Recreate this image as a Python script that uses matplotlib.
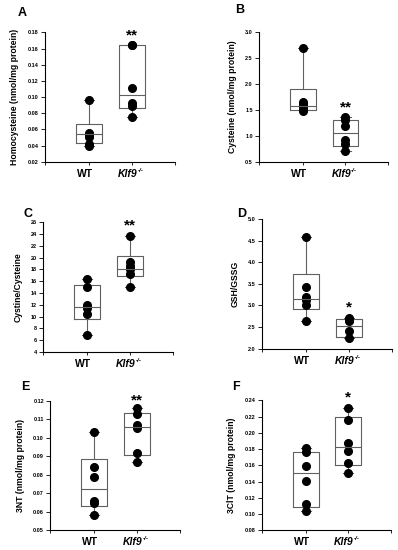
import matplotlib
matplotlib.use("Agg")
import matplotlib.pyplot as plt
import numpy as np

plt.rcParams['font.family'] = ['Liberation Sans', 'DejaVu Sans']
plt.rcParams['font.weight'] = 'bold'

groups = ['WT', 'Klf9']

# individual points
hcy_wt = [0.096, 0.056, 0.053, 0.051, 0.042, 0.040]
hcy_ko = [0.165, 0.164, 0.111, 0.093, 0.089, 0.075]
cys_wt = [2.70, 1.65, 1.62, 1.58, 1.52, 1.49]
cys_ko = [1.36, 1.30, 1.20, 0.92, 0.85, 0.70]
ratio_wt = [16.3, 15.1, 11.9, 11.4, 10.5, 6.9]
ratio_ko = [23.7, 19.2, 18.6, 18.0, 17.3, 15.0]
gsh_wt = [4.58, 3.43, 3.19, 3.12, 3.00, 2.63]
gsh_ko = [2.71, 2.67, 2.63, 2.40, 2.25]
nt_wt = [0.103, 0.084, 0.079, 0.066, 0.065, 0.058]
nt_ko = [0.116, 0.113, 0.107, 0.1055, 0.092, 0.087]
cit_wt = [0.181, 0.176, 0.159, 0.141, 0.112, 0.104]
cit_ko = [0.231, 0.216, 0.188, 0.178, 0.163, 0.151]

# box summaries as drawn: whislo, q1, median, q3, whishi
hcy_box = [(0.040, 0.043, 0.054, 0.067, 0.096), (0.075, 0.086, 0.102, 0.165, 0.165)]
cys_box = [(1.50, 1.505, 1.58, 1.90, 2.70), (0.70, 0.81, 1.05, 1.30, 1.36)]
ratio_box = [(6.9, 9.66, 11.64, 15.4, 16.3), (15.0, 16.8, 18.1, 20.2, 23.7)]
gsh_box = [(2.63, 2.91, 3.16, 3.72, 4.58), (2.25, 2.27, 2.52, 2.68, 2.71)]
nt_box = [(0.058, 0.063, 0.0724, 0.0885, 0.103), (0.087, 0.0909, 0.1057, 0.1135, 0.116)]
cit_box = [(0.104, 0.109, 0.150, 0.177, 0.181), (0.151, 0.160, 0.183, 0.219, 0.231)]

panels = [
    ('A', hcy_wt, hcy_ko, hcy_box, 'Homocysteine (nmol/mg protein)', (0.02, 0.18), 0.02, '**', 0.176),
    ('B', cys_wt, cys_ko, cys_box, 'Cysteine (nmol/mg protein)', (0.5, 3.0), 0.5, '**', 1.55),
    ('C', ratio_wt, ratio_ko, ratio_box, 'Cystine/Cysteine', (4, 26), 2, '**', 25.4),
    ('D', gsh_wt, gsh_ko, gsh_box, 'GSH/GSSG', (2.0, 5.0), 0.5, '*', 2.95),
    ('E', nt_wt, nt_ko, nt_box, '3NT (nmol/mg protein)', (0.05, 0.12), 0.01, '**', 0.1205),
    ('F', cit_wt, cit_ko, cit_box, '3ClT (nmol/mg protein)', (0.08, 0.24), 0.02, '*', 0.243),
]

# axes rectangles [left, bottom, width, height] in figure fraction
rects = [
    [0.113, 0.706, 0.327, 0.235],
    [0.651, 0.706, 0.324, 0.235],
    [0.108, 0.360, 0.327, 0.236],
    [0.658, 0.366, 0.327, 0.236],
    [0.126, 0.036, 0.326, 0.235],
    [0.658, 0.036, 0.324, 0.236],
]
letter_pos = [(0.045, 0.97), (0.59, 0.976), (0.06, 0.606), (0.597, 0.606), (0.052, 0.29), (0.583, 0.29)]

pos = [0.34, 0.67]
gray = '#606060'

fig = plt.figure(figsize=(3.98, 5.5), dpi=100)

for (letter, wt, ko, box, ylab, ylim, step, star, stary), r, lp in zip(panels, rects, letter_pos):
    ax = fig.add_axes(r)
    stats = []
    for b in box:
        stats.append(dict(whislo=b[0], q1=b[1], med=b[2], q3=b[3], whishi=b[4], fliers=[]))
    ax.bxp(stats, positions=pos, widths=0.2, showfliers=False,
           boxprops=dict(color=gray, linewidth=0.8),
           medianprops=dict(color=gray, linewidth=0.8),
           whiskerprops=dict(color=gray, linewidth=0.8),
           capprops=dict(color=gray, linewidth=0.8), capwidths=0.08)
    ax.plot([pos[0]] * len(wt), wt, 'o', color='black', markersize=5.5)
    ax.plot([pos[1]] * len(ko), ko, 'o', color='black', markersize=5.5)
    ax.text(pos[1], stary, star, ha='center', va='center', fontsize=11, fontweight='bold')

    ax.set_xlim(0, 1)
    ax.set_ylim(*ylim)
    ax.set_yticks(np.arange(ylim[0], ylim[1] + step / 2, step))
    if step < 0.1:
        ax.yaxis.set_major_formatter(matplotlib.ticker.FormatStrFormatter('%.2f'))
    elif step < 1:
        ax.yaxis.set_major_formatter(matplotlib.ticker.FormatStrFormatter('%.1f'))
    ax.set_xticks([0] + pos + [1])
    ax.set_xticklabels([])
    ax.tick_params(axis='y', labelsize=4, length=3, width=0.6, pad=1.5)
    ax.tick_params(axis='x', length=2.5, width=0.6)
    # group labels under the axis
    ax.annotate(groups[0], (pos[0], 0), xycoords=('data', 'axes fraction'),
                xytext=(-3, -5), textcoords='offset points', ha='center', va='top',
                fontsize=7.5, fontweight='bold')
    ax.annotate(groups[1], (pos[1], 0), xycoords=('data', 'axes fraction'),
                xytext=(-3, -5), textcoords='offset points', ha='center', va='top',
                fontsize=7.5, fontweight='bold', fontstyle='italic')
    ax.annotate('-/-', (pos[1], 0), xycoords=('data', 'axes fraction'),
                xytext=(4, -4.5), textcoords='offset points', ha='left', va='top',
                fontsize=4.5, fontweight='bold', fontstyle='italic')
    ax.set_ylabel(ylab, fontsize=6.2, fontweight='bold', labelpad=6)
    for s in ['top', 'right']:
        ax.spines[s].set_visible(False)
    for s in ['left', 'bottom']:
        ax.spines[s].set_linewidth(0.8)
    fig.text(lp[0], lp[1], letter, fontsize=9, fontweight='bold')

fig.savefig('out.png', dpi=100)
